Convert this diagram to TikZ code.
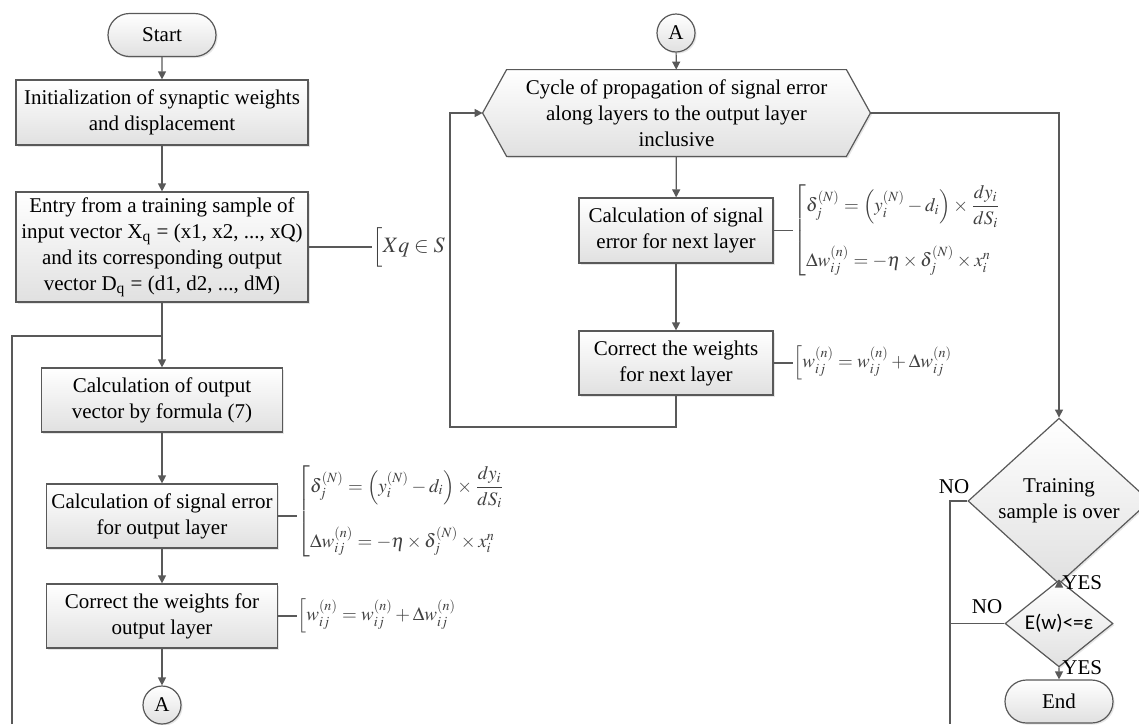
\documentclass[tikz,border=0pt]{standalone}
\usepackage{amsmath}
\usepackage{mathptmx}
\usepackage{fontspec}
\setmainfont{Liberation Serif}
\newfontfamily\calib{Carlito}
\usetikzlibrary{arrows.meta, shapes.geometric, shapes.misc, shadows, backgrounds}

\newcommand{\errpair}{$\left[\begin{array}{@{}l@{}}
	\delta_j^{(N)} = \left(y_i^{(N)} - d_i\right)\times\dfrac{dy_i}{dS_i}\\[14pt]
	\Delta w_{ij}^{(n)} = -\eta\times\delta_j^{(N)}\times x_i^n
	\end{array}\right.$}
\newcommand{\wupdate}{$\left[\rule[-5pt]{0pt}{15pt} w_{ij}^{(n)} = w_{ij}^{(n)} + \Delta w_{ij}^{(n)} \right.$}

\begin{document}
\begin{tikzpicture}[x=0.5pt, y=-0.5pt, font=\fontsize{10.5}{13}\selectfont,
	line/.style={draw=black!65, line width=0.6pt},
	arr/.style={line, -{Triangle[length=4pt, width=4pt]}},
	boxfill/.style={top color=white, bottom color=black!12, draw=black!65, line width=0.6pt,
		drop shadow={opacity=0.2, shadow xshift=0.8pt, shadow yshift=-0.8pt}},
	procbox/.style={boxfill, rectangle, align=center, inner sep=2pt},
	termbox/.style={boxfill, rounded rectangle, minimum width=54pt, minimum height=21.5pt, inner sep=0pt},
	conn/.style={boxfill, circle, minimum size=19pt, inner sep=0pt},
	decis/.style={boxfill, diamond, inner sep=0pt, align=center},
	formula/.style={anchor=west, inner sep=0pt, text=black!75, font=\fontsize{9.5}{11}\selectfont}]
	\useasboundingbox (0,0) rectangle (1139,724);

	\node[termbox] (start) at (162,35) {Start};
	\node[procbox, minimum width=146pt, minimum height=32.5pt] (init) at (162,112.5) {Initialization of synaptic weights\\and displacement};
	\node[procbox, minimum width=146pt, minimum height=55pt] (entry) at (162,247) {Entry from a training sample of\\input vector X\textsubscript{q} = (x1, x2, ..., xQ)\\and its corresponding output\\vector D\textsubscript{q} = (d1, d2, ..., dM)};
	\node[procbox, minimum width=120.5pt, minimum height=32pt] (calcout) at (162,400) {Calculation of output\\vector by formula (7)};
	\node[procbox, minimum width=115.5pt, minimum height=32pt] (errout) at (162,516) {Calculation of signal error\\for output layer};
	\node[procbox, minimum width=115.5pt, minimum height=32pt] (corrout) at (162,616) {Correct the weights for\\output layer};
	\node[conn] (outA) at (162,705) {A};
	\node[formula, font=\fontsize{11}{13}\selectfont] (xq) at (372,247) {$\left[\rule[-6pt]{0pt}{17pt} Xq \in S \right.$};
	\node[formula] (fout) at (297,511) {\errpair};
	\node[formula] (wout) at (297,616) {\wupdate};

	\node[conn] (inA) at (676,33) {A};
	\node[align=center, minimum width=193.5pt, minimum height=43pt, inner sep=0pt] (cycle) at (676.5,113) {Cycle of propagation of signal error\\along layers to the output layer\\inclusive};
	\begin{scope}[on background layer]
		\path[boxfill] (cycle.west) -- ([xshift=12pt]cycle.north west) -- ([xshift=-12pt]cycle.north east) -- (cycle.east) -- ([xshift=-12pt]cycle.south east) -- ([xshift=12pt]cycle.south west) -- cycle;
	\end{scope}
	\node[procbox, minimum width=97pt, minimum height=32.5pt] (errnext) at (676,230.5) {Calculation of signal\\error for next layer};
	\node[procbox, minimum width=97pt, minimum height=32pt] (corrnext) at (676,363) {Correct the weights\\for next layer};
	\node[formula] (fnext) at (793,230.5) {\errpair};
	\node[formula] (wnext) at (793,363) {\wupdate};

	\node[decis, minimum width=91pt, minimum height=71pt] (train) at (1059,501) {Training\\sample is over};
	\node[decis, minimum width=54pt, minimum height=31.5pt, font=\calib\fontsize{10.5}{12}\selectfont] (wcheck) at (1059,623.5) {E(w)<=ε};
	\node[termbox] (finish) at (1059,701.5) {End};
	\node (noa) at (954,487) {NO};
	\node (nob) at (987,607) {NO};
	\node[anchor=west, inner sep=0pt] (yesa) at (1062,583) {YES};
	\node[anchor=west, inner sep=0pt] (yesb) at (1062,668) {YES};

	\coordinate (loopL) at (12,724); \coordinate (joinL) at (162,336); \coordinate (back) at (450,427); \coordinate (loopR) at (950,724);

	\draw[arr] (start) -- (init);
	\draw[arr] (init) -- (entry);
	\draw[arr] (entry) -- (calcout);
	\draw[line] (loopL) |- (joinL);
	\draw[arr] (calcout) -- (errout);
	\draw[arr] (errout) -- (corrout);
	\draw[arr] (corrout) -- (outA);
	\draw[line] (entry.east) -- (xq.west);
	\draw[line] (errout.east) -- (errout.east -| fout.west);
	\draw[line] (corrout.east) -- (wout.west);
	\draw[arr] (inA) -- (cycle);
	\draw[arr] (cycle) -- (errnext);
	\draw[arr] (errnext) -- (corrnext);
	\draw[line] (errnext.east) -- (fnext.west);
	\draw[line] (corrnext.east) -- (wnext.west);
	\draw[arr] (corrnext.south) |- (back) |- (cycle.west);
	\draw[arr] (cycle.east) -| (train.north);
	\draw[arr] (train) -- (wcheck);
	\draw[arr] (wcheck) -- (finish);
	\draw[line] (train.west) -| (loopR);
	\draw[line] (wcheck.west) -- (wcheck.west -| loopR);
\end{tikzpicture}
\end{document}
